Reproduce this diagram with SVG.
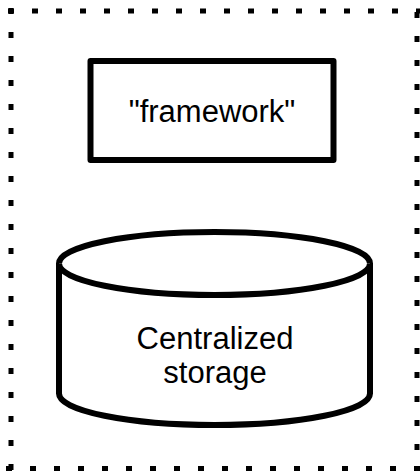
<svg xmlns="http://www.w3.org/2000/svg" width="420" height="471" viewBox="0 0 420 471">
<style>
.border{stroke:#000;stroke-width:5;stroke-dasharray:6 18;fill:none}
.shape{fill:#fff;stroke:#000;stroke-width:6;stroke-linejoin:round}
.lbl{font-family:"Liberation Sans",Arial,sans-serif;font-size:31px;fill:#000;text-anchor:middle}
</style>
<rect width="420" height="471" fill="#fff"/>
<g id="boundary">
<line class="border" x1="8" y1="11" x2="420" y2="11"/>
<line class="border" x1="11" y1="8" x2="11" y2="471"/>
<line class="border" x1="417" y1="12" x2="417" y2="471"/>
<line class="border" x1="6" y1="468.5" x2="420" y2="468.5"/>
</g>
<g id="framework">
<rect class="shape" x="90.5" y="61" width="243" height="99"/>
<text class="lbl" x="212" y="122">"framework"</text>
</g>
<g id="storage">
<path class="shape" d="M59,263.5 L59,393.5 A155.5,31.5 0 0 0 370,393.5 L370,263.5 A155.5,31.5 0 0 0 59,263.5 Z"/>
<path class="shape" fill="none" d="M59,263.5 A155.5,31.5 0 0 0 370,263.5"/>
<text class="lbl" x="215" y="349">Centralized</text>
<text class="lbl" x="215" y="383">storage</text>
</g>
<g id="connectors"/>
</svg>
